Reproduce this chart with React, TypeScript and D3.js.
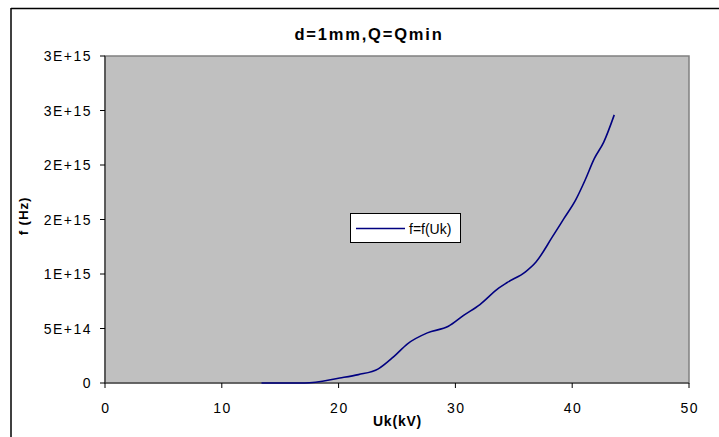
import React from "react";
import * as d3 from "d3";

const title = "d=1mm,Q=Qmin";
const xLabel = "Uk(kV)";
const yLabel = "f (Hz)";
const seriesName = "f=f(Uk)";

const uk = [13.4, 17.1, 20.1, 21.7, 23.4, 24.7, 25.9, 27.6, 29.4, 30.7, 32.1, 33.7, 34.4, 36.0, 36.9, 38.3, 39.3, 40.3, 41.1, 41.9, 42.7, 43.6];
const freq = [0, 0, 4.6e13, 7.7e13, 1.3e14, 2.4e14, 3.6e14, 4.6e14, 5.2e14, 6.2e14, 7.2e14, 8.7e14, 9.2e14, 1.02e15, 1.11e15, 1.34e15, 1.51e15, 1.68e15, 1.86e15, 2.06e15, 2.21e15, 2.46e15];

const xTicks = [0, 10, 20, 30, 40, 50];
const yTickValues = [0, 5e14, 1e15, 1.5e15, 2e15, 2.5e15, 3e15];
const yTickLabels = ["0", "5E+14", "1E+15", "2E+15", "2E+15", "3E+15", "3E+15"];

const FONT = "'Liberation Sans', Arial, sans-serif";

export default function App() {
  const left = 105, right = 689, top = 56, bottom = 383;
  const x = d3.scaleLinear().domain([0, 50]).range([left, right]);
  const y = d3.scaleLinear().domain([0, 3e15]).range([bottom, top]);
  const pts: [number, number][] = uk.map((u, i) => [u, freq[i]]);
  const line = d3
    .line<[number, number]>()
    .x((d) => x(d[0]))
    .y((d) => y(d[1]))
    .curve(d3.curveMonotoneX);

  return (
    <svg
      width={719}
      height={437}
      style={{ position: "absolute", left: 0, top: 0, background: "#fff" }}
      fontFamily={FONT}
    >
      <rect x={0} y={0} width={719} height={437} fill="#fff" />
      {/* outer chart border */}
      <line x1={11} y1={8.5} x2={719} y2={8.5} stroke="#000" strokeWidth={1.5} />
      <line x1={11} y1={8} x2={11} y2={437} stroke="#000" strokeWidth={1.5} />

      {/* title */}
      <text x={369} y={40} textAnchor="middle" fontSize={16.5} fontWeight="bold" letterSpacing={1.8}>
        {title}
      </text>

      {/* plot area */}
      <rect x={left} y={top} width={right - left} height={bottom - top} fill="#c0c0c0" stroke="#808080" strokeWidth={1.5} />
      <line x1={left} y1={top} x2={left} y2={bottom} stroke="#333" strokeWidth={1.2} />
      <line x1={left} y1={bottom} x2={right} y2={bottom} stroke="#333" strokeWidth={1.2} />

      {/* y ticks */}
      {yTickValues.map((v, i) => (
        <g key={"y" + i}>
          <line x1={left - 5} x2={left} y1={y(v)} y2={y(v)} stroke="#000" />
          <text x={92} y={y(v) + 5} textAnchor="end" fontSize={14} letterSpacing={1.5}>
            {yTickLabels[i]}
          </text>
        </g>
      ))}

      {/* x ticks */}
      {xTicks.map((v) => (
        <g key={"x" + v}>
          <line x1={x(v)} x2={x(v)} y1={bottom} y2={bottom + 5} stroke="#000" />
          <text x={x(v) + 0.8} y={412.5} textAnchor="middle" fontSize={14} letterSpacing={1.5}>
            {String(v)}
          </text>
        </g>
      ))}

      {/* axis titles */}
      <text x={397.5} y={425.5} textAnchor="middle" fontSize={14} fontWeight="bold" letterSpacing={0.8}>
        {xLabel}
      </text>
      <text
        transform="translate(28,216) rotate(-90)"
        textAnchor="middle"
        fontSize={13.5}
        fontWeight="bold"
        letterSpacing={0.8}
      >
        {yLabel}
      </text>

      {/* series */}
      <path d={line(pts) || ""} fill="none" stroke="#000080" strokeWidth={1.6} />

      {/* legend */}
      <rect x={350.5} y={213.5} width={110} height={29} fill="#fff" stroke="#000" strokeWidth={1} />
      <line x1={356} x2={405} y1={228.5} y2={228.5} stroke="#000080" strokeWidth={1.6} />
      <text x={409} y={233.5} fontSize={14}>
        {seriesName}
      </text>
    </svg>
  );
}
